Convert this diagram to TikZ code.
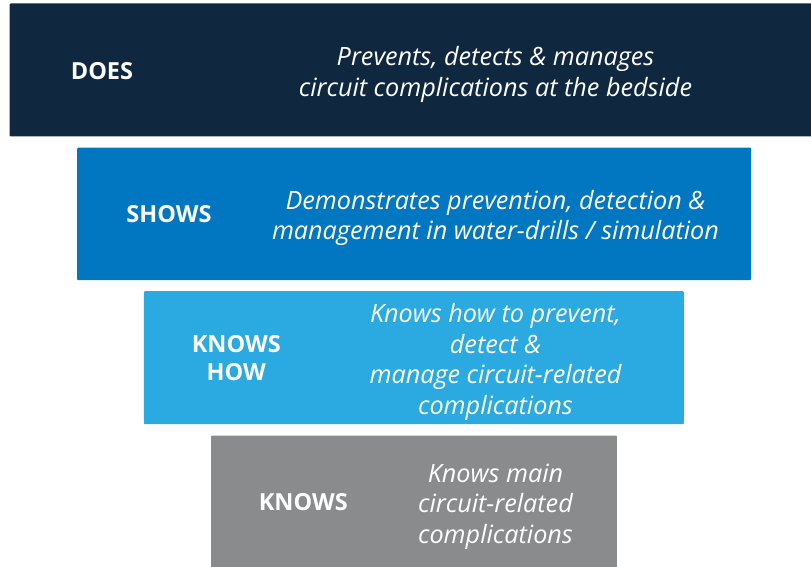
\documentclass[tikz,border=0pt]{standalone}
\usepackage{fontspec}
\setmainfont{Open Sans}
\begin{document}
\begin{tikzpicture}[x=1bp,y=-1bp,
  tier/.style={draw=none, rounded corners=1bp, inner sep=0pt, anchor=north west},
  lvl/.style={text=white, font=\fontsize{23.5bp}{28bp}\selectfont\bfseries, align=center, inner sep=0pt},
  desc/.style={text=white, font=\fontsize{25.2bp}{30.5bp}\selectfont\itshape, align=center, inner sep=0pt}]
\definecolor{navy}{HTML}{10283F}
\definecolor{midblue}{HTML}{0077C0}
\definecolor{skyblue}{HTML}{2AAAE1}
\definecolor{slate}{HTML}{8A8B8D}
\useasboundingbox (0,0) rectangle (811,567);
% tier boxes, widest at the top
\node[tier, fill=navy, minimum width=803bp, minimum height=133bp] (does) at (9.5,3.3) {};
\node[tier, fill=midblue, minimum width=674bp, minimum height=132.5bp] (shows) at (77,147.5) {};
\node[tier, fill=skyblue, minimum width=540bp, minimum height=133bp] (knowshow) at (143.7,291) {};
\node[tier, fill=slate, minimum width=405.7bp, minimum height=140bp] (knows) at (211,435.3) {};
% level names
\node[lvl] (doesL) at (102,71) {DOES};
\node[lvl] (showsL) at (169,214.5) {SHOWS};
\node[lvl] (knowshowL) at (236.3,358) {KNOWS\\HOW};
\node[lvl] (knowsL) at (303.3,502) {KNOWS};
% descriptions
\node[desc] (doesD) at (495.5,74.5) {Prevents, detects \& manages\\circuit complications at the bedside};
\node[desc] (showsD) at (495.5,218) {Demonstrates prevention, detection \&\\management in water-drills / simulation};
\node[desc] (knowshowD) at (495.5,362) {Knows how to prevent,\\detect \&\\manage circuit-related\\complications};
\node[desc] (knowsD) at (495.5,506.5) {Knows main\\circuit-related\\complications};
\end{tikzpicture}
\end{document}
